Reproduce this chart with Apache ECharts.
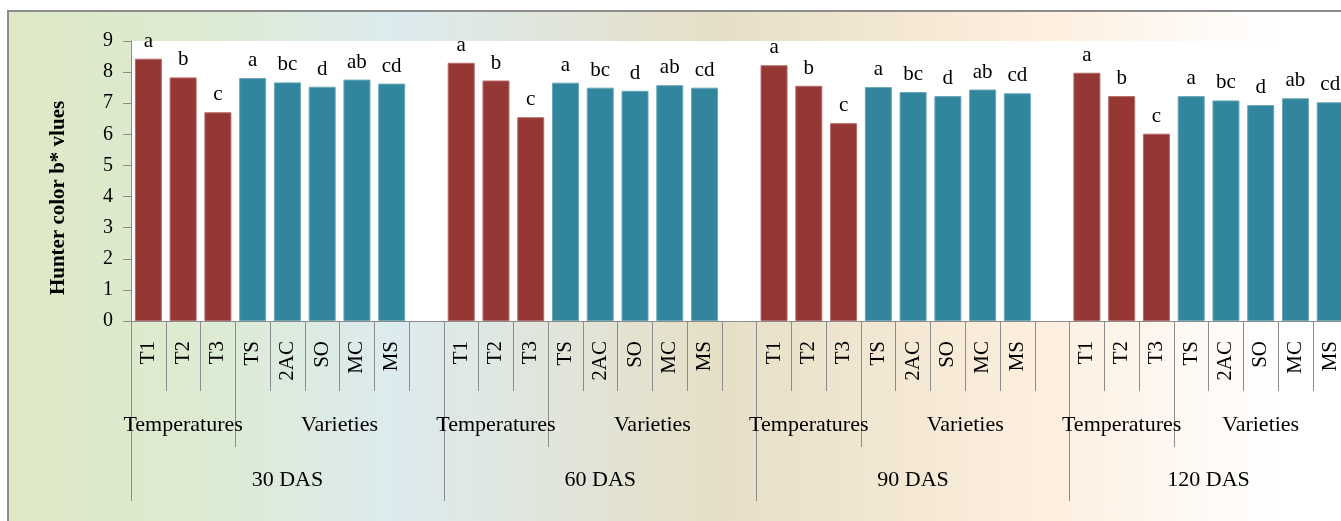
<!DOCTYPE html>
<html>
<head>
<meta charset="utf-8">
<title>Hunter color b* values</title>
<script src="https://cdn.jsdelivr.net/npm/echarts@6/dist/echarts.min.js"></script>
<style>
  html, body { margin: 0; padding: 0; overflow: hidden; background: #ffffff; width: 1341px; height: 521px; }
  #frame {
    position: absolute; left: 7px; top: 10px; width: 1400px; height: 520px;
    border-left: 2px solid #8c8c8c; border-top: 2px solid #8c8c8c;
    background: linear-gradient(to right, #dee8c6 0px, #dcebd2 200px, #dcebee 385px, #e6dfc6 710px, #fdeedd 1020px, #ffffff 1270px);
  }
  #chart { position: absolute; left: 0; top: 0; width: 1400px; height: 521px; }
</style>
</head>
<body>
<div id="frame"></div>
<div id="chart"></div>
<script>
// Sampling dates and treatment labels
const dasNames = ['30 DAS', '60 DAS', '90 DAS', '120 DAS'];
const factorNames = ['Temperatures', 'Varieties'];
const temps = ['T1', 'T2', 'T3'];
const varieties = ['TS', '2AC', 'SO', 'MC', 'MS'];

// Mean separation letters
const tempLetters = ['a', 'b', 'c'];
const varLetters = ['a', 'bc', 'd', 'ab', 'cd'];

// Hunter b* means per sampling date
const t30 = [8.43, 7.83, 6.71];
const v30 = [7.81, 7.67, 7.53, 7.76, 7.63];
const t60 = [8.30, 7.73, 6.55];
const v60 = [7.66, 7.50, 7.40, 7.58, 7.50];
const t90 = [8.22, 7.56, 6.36];
const v90 = [7.52, 7.36, 7.23, 7.44, 7.32];
const t120 = [7.98, 7.23, 6.02];
const v120 = [7.23, 7.09, 6.94, 7.16, 7.03];

// Y axis ticks
const yMin = 0, yMax = 9, yStep = 1;

const tempSets = [t30, t60, t90, t120];
const varSets = [v30, v60, v90, v120];

const RED = '#953735', TEAL = '#31859c';
const FONT = 'Liberation Serif';

// Build flat category list: each date block = temps + varieties (+ spacer, except last)
const cats = [];
const barData = [];
const blocks = []; // {start, size}
dasNames.forEach((name, g) => {
  const start = cats.length;
  temps.forEach((t, i) => {
    cats.push(t);
    barData.push({ value: tempSets[g][i], letter: tempLetters[i],
      itemStyle: { color: RED, borderColor: '#b56a68', borderWidth: 1 } });
  });
  varieties.forEach((v, i) => {
    cats.push(v);
    barData.push({ value: varSets[g][i], letter: varLetters[i],
      itemStyle: { color: TEAL, borderColor: '#6aa8b8', borderWidth: 1 } });
  });
  if (g < dasNames.length - 1) { cats.push(''); barData.push('-'); }
  blocks.push({ start, size: cats.length - start });
});

// Half-slot boundary points used by the grouping axes
const nPts = cats.length * 2 + 1;
const factorLabels = new Array(nPts).fill('');
const dasLabels = new Array(nPts).fill('');
const factorTicks = new Set();
const dasTicks = new Set();
blocks.forEach((b, g) => {
  const nT = temps.length;
  factorLabels[2 * b.start + nT] = factorNames[0];
  factorLabels[2 * (b.start + nT) + (b.size - nT)] = factorNames[1];
  factorTicks.add(2 * (b.start + nT));
  dasLabels[2 * b.start + b.size] = dasNames[g];
  dasTicks.add(2 * b.start);
});

const slotW = 34.76;
const lineStyle = { color: '#8c8c8c', width: 1 };

const chart = echarts.init(document.getElementById('chart'));
chart.setOption({
  animation: false,
  grid: {
    left: 131, top: 41, width: slotW * cats.length, height: 280,
    show: true, backgroundColor: '#ffffff', borderWidth: 0
  },
  xAxis: [
    {
      type: 'category', data: cats, position: 'bottom', offset: 0,
      axisLine: { show: true, lineStyle },
      axisTick: { show: true, interval: 0, length: 70, lineStyle },
      axisLabel: { interval: 0, rotate: 90, margin: 20, color: '#000',
        fontFamily: FONT, fontSize: 21 }
    },
    {
      type: 'category', data: factorLabels, boundaryGap: false, position: 'bottom', offset: 0,
      axisLine: { show: false },
      axisTick: { show: true, length: 126, lineStyle, interval: (i) => factorTicks.has(i) },
      axisLabel: { interval: 0, margin: 93, color: '#000', fontFamily: FONT, fontSize: 22 }
    },
    {
      type: 'category', data: dasLabels, boundaryGap: false, position: 'bottom', offset: 0,
      axisLine: { show: false },
      axisTick: { show: true, length: 180, lineStyle, interval: (i) => dasTicks.has(i) },
      axisLabel: { interval: 0, margin: 148, color: '#000', fontFamily: FONT, fontSize: 22 }
    }
  ],
  yAxis: {
    type: 'value', min: yMin, max: yMax, interval: yStep,
    name: 'Hunter color b* vlues', nameLocation: 'middle', nameGap: 62,
    nameTextStyle: { fontFamily: FONT, fontSize: 21, fontWeight: 'bold', color: '#000',
      padding: [0, 34, 0, 0] },
    axisLine: { show: true, lineStyle },
    axisTick: { show: true, length: 8, lineStyle },
    splitLine: { show: false },
    axisLabel: { margin: 18, color: '#000', fontFamily: FONT, fontSize: 20 }
  },
  series: [{
    type: 'bar', xAxisIndex: 0, data: barData, barWidth: 27,
    label: {
      show: true, position: 'top', distance: 7, color: '#000',
      fontFamily: FONT, fontSize: 21,
      formatter: (p) => p.data.letter
    }
  }]
});
</script>
</body>
</html>
